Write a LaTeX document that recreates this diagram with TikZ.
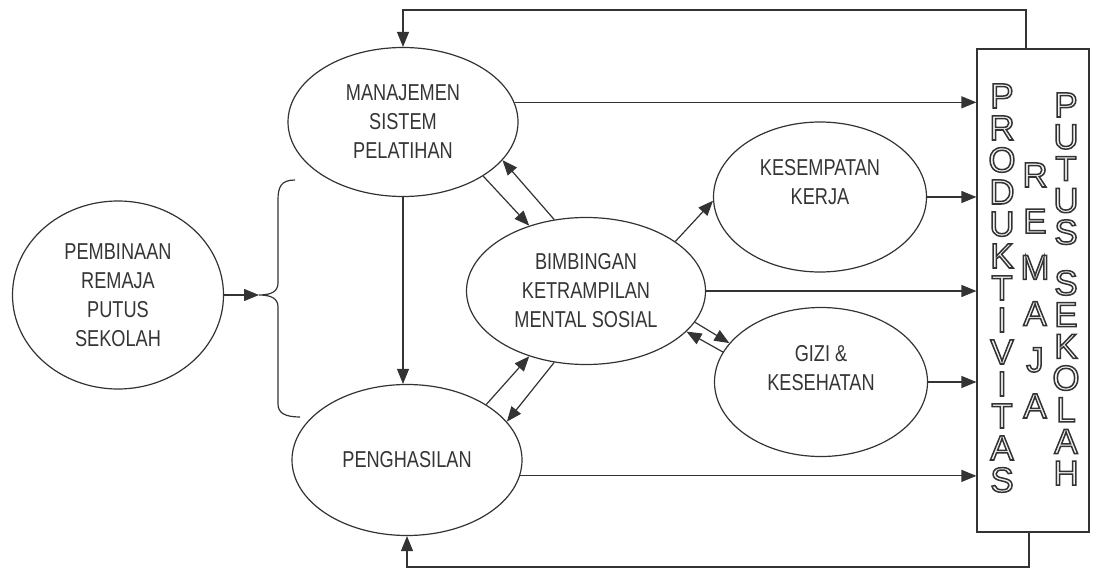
\documentclass[tikz,border=0pt]{standalone}
\usepackage{fontspec}
\setmainfont{Liberation Sans}
\newfontfamily\narf[FakeStretch=0.79]{Liberation Sans}
\usetikzlibrary{arrows.meta,shapes.geometric,calc}
\definecolor{ink}{HTML}{333333}
\definecolor{txt}{HTML}{353535}
\definecolor{holfill}{HTML}{F4F4F4}
\newcommand\hollowch[1]{%
  \textcolor{holfill}{\special{pdf:code 2 Tr 1.5 w 0.2 0.2 0.2 RG}#1\special{pdf:code 0 Tr}}}
\begin{document}
\begin{tikzpicture}[x=1pt,y=-1pt,
  ell/.style={ellipse,draw=ink,line width=1.2pt,inner sep=0pt,align=center,
    font=\narf\fontsize{23}{29}\selectfont,text=txt},
  lbl/.style={inner sep=0pt,align=center,font=\narf\fontsize{23}{29}\selectfont,text=txt},
  con/.style={draw=ink,line width=1.2pt},
  arr/.style={con,-{Triangle[length=15pt,width=12pt]}},
  letr/.style={inner sep=0pt,anchor=base,font=\fontsize{35}{35}\selectfont}]
\useasboundingbox (0,0) rectangle (1094,569);
\fill[white] (0,0) rectangle (1094,569);

% nodes
\node[ell,minimum width=211,minimum height=188] (pem) at (118,295) {PEMBINAAN\\REMAJA\\PUTUS\\SEKOLAH};
\node[ell,minimum width=230,minimum height=149] (man) at (403,122) {MANAJEMEN\\SISTEM\\PELATIHAN};
\node[ell,minimum width=230,minimum height=151] (peng) at (407,460) {PENGHASILAN};
\node[ell,minimum width=239,minimum height=147] (bim) at (586,291) {BIMBINGAN\\KETRAMPILAN\\MENTAL SOSIAL};
\node[ell,minimum width=213,minimum height=150] (kes) at (820,197) {};
\node[lbl] (kest) at (820,182) {KESEMPATAN\\KERJA};
\node[ell,minimum width=213,minimum height=149] (giz) at (821,382) {};
\node[lbl] (gizt) at (821,368) {GIZI \&\\KESEHATAN};
\node[draw=ink,line width=1.2pt,minimum width=112,minimum height=483,inner sep=0pt] (box) at (1033,290.5) {};

% box letters
\foreach \c [count=\i from 0] in {P,R,O,D,U,K,T,I,V,I,T,A,S}
  \node[letr] (pa\i) at (1002,108+32*\i) {\hollowch{\c}};
\foreach \c [count=\i from 0] in {R,E,M,A,J,A}
  \node[letr] (pb\i) at (1035,187+46.2*\i) {\hollowch{\c}};
\foreach \c [count=\i from 0] in {P,U,T,U,S}
  \node[letr] (pc\i) at (1066,117+31.8*\i) {\hollowch{\c}};
\foreach \c [count=\i from 0] in {S,E,K,O,L,A,H}
  \node[letr] (pd\i) at (1066,295+31.7*\i) {\hollowch{\c}};

% brace
\coordinate (tip) at (259,295);
\draw[con] (295,180) .. controls (281,180) and (278,187) .. (278,200)
  -- (278,283) .. controls (278,291) and (272,295) .. (tip)
  .. controls (272,295) and (278,299) .. (278,307)
  -- (278,404) .. controls (278,413) and (285,417) .. (300,417);
\draw[arr] (pem.east) -- (tip);

% arrows to box
\draw[arr] (man.10) -- (man.10 -| box.west);
\draw[arr] (kes.east) -- (kes.east -| box.west);
\draw[arr] (bim.east) -- (bim.east -| box.west);
\draw[arr] (giz.east) -- (giz.east -| box.west);
\draw[arr] (peng.-8) -- (peng.-8 -| box.west);

% feedback loops
\coordinate (loopT) at (1026,10);
\coordinate (loopB) at (1029,567);
\draw[arr] (box.north -| loopT) -- (loopT) -| (man.north);
\draw[arr] (box.south -| loopB) -- (loopB) -| (peng.south);

% internal arrows
\draw[arr] (man.south) -- (man.south |- peng.north);
\draw[arr] (man.-34) -- (bim.131);
\draw[arr] (bim.114) -- (man.-21);
\draw[arr] (peng.35) -- (bim.229);
\draw[arr] (bim.246) -- (peng.21);
\draw[arr] (bim.29) -- (kes.182);
\draw[arr] (bim.-16) -- (giz.157);
\draw[arr] (giz.163) -- (bim.-22);
\end{tikzpicture}
\end{document}
